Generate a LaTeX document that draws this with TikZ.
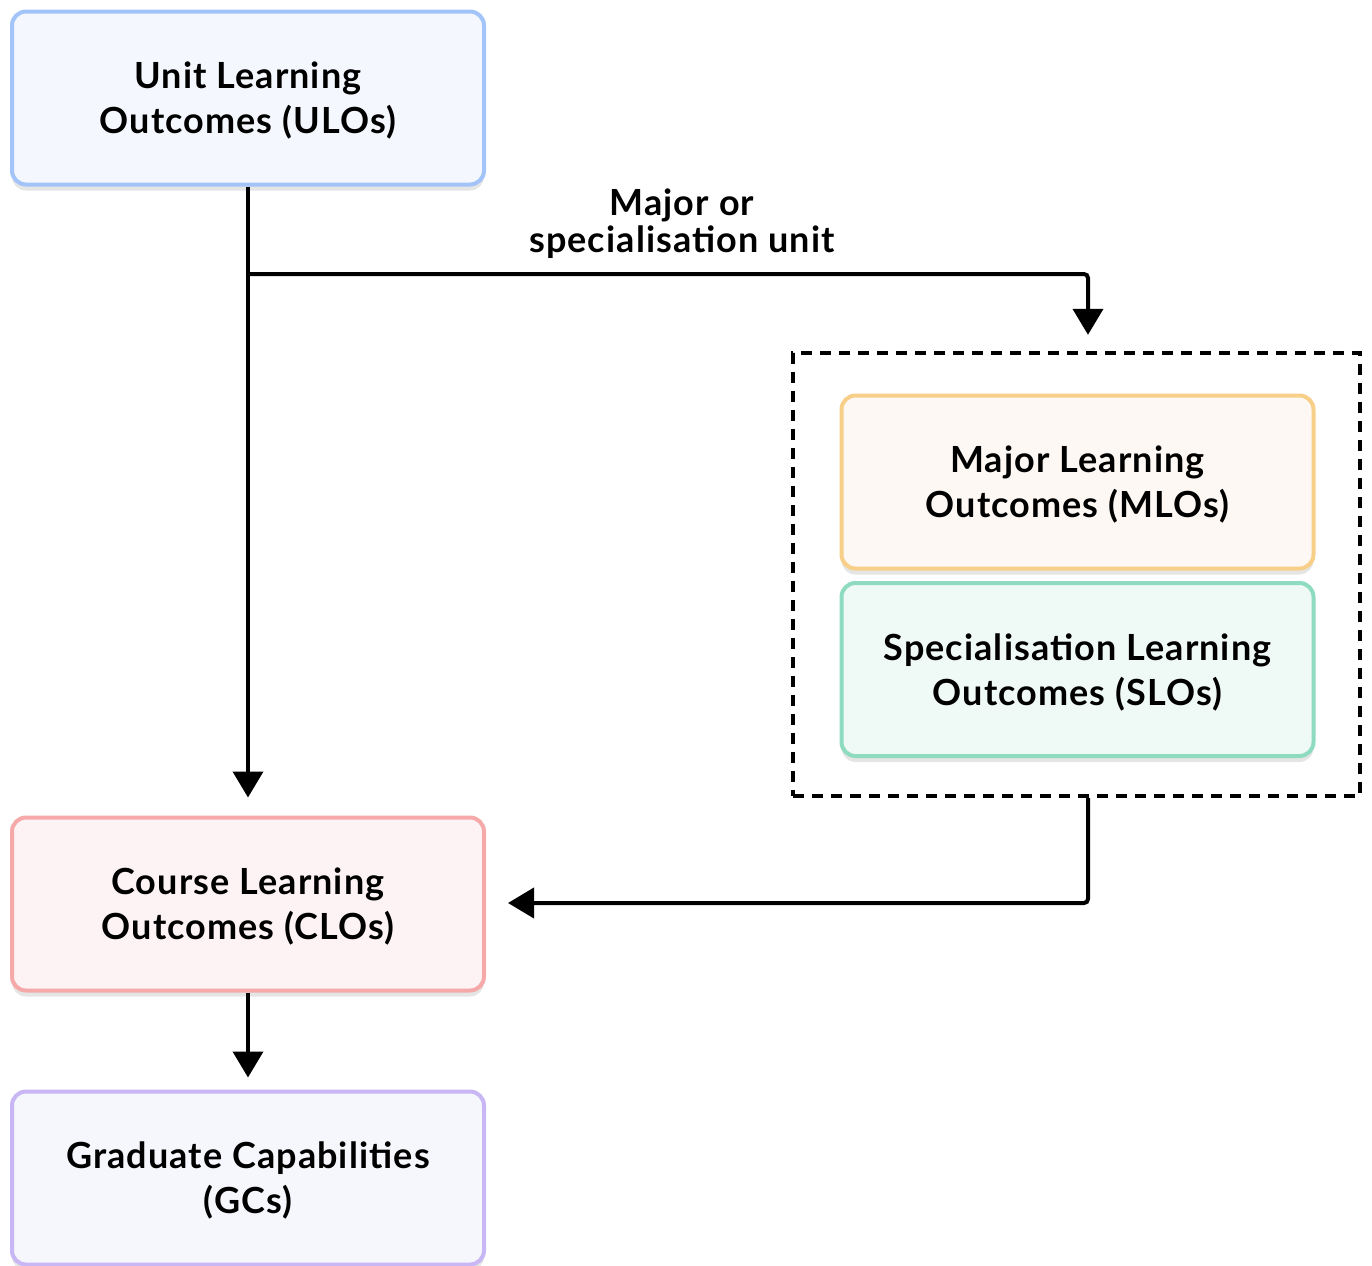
\documentclass[tikz,border=0pt]{standalone}
\usepackage{fontspec}
\setmainfont{Lato}[LetterSpace=3]
\usetikzlibrary{arrows.meta,positioning,shadows}
\definecolor{uloline}{HTML}{A3C4F8}
\definecolor{ulofill}{HTML}{F4F7FD}
\definecolor{cloline}{HTML}{F5A9A9}
\definecolor{clofill}{HTML}{FDF3F4}
\definecolor{gcline}{HTML}{C8B6F5}
\definecolor{gcfill}{HTML}{F6F6FD}
\definecolor{mloline}{HTML}{F7CF88}
\definecolor{mlofill}{HTML}{FDF8F3}
\definecolor{sloline}{HTML}{8EDBC0}
\definecolor{slofill}{HTML}{EFF9F6}
\tikzstyle{lo}=[draw, rounded corners=7pt, line width=2pt, minimum width=236pt, minimum height=86.5pt, align=center, text depth=0pt, font=\bfseries\fontsize{18}{22.5}\selectfont, drop shadow={shadow xshift=0pt, shadow yshift=-3pt, opacity=0.10, fill=black}]
\tikzstyle{group}=[draw, line width=2.2pt, dash pattern=on 5.5pt off 4pt, minimum width=283.5pt, minimum height=221.5pt]

\begin{document}
\begin{tikzpicture}[x=0.5pt,y=-0.5pt,>={Triangle[width=15pt,length=13pt]},line width=2pt]
    \useasboundingbox (0,0) rectangle (1372,1265);
    \node [lo, draw=uloline, fill=ulofill] (ulo) at (248,98) {Unit Learning\\Outcomes (ULOs)};
    \node [lo, draw=cloline, fill=clofill] (clo) at (248,904) {Course Learning\\Outcomes (CLOs)};
    \node [lo, draw=gcline, fill=gcfill] (gc) at (248,1178) {Graduate Capabilities\\(GCs)};
    \node [group] (spec) at (1076.5,574.5) {};
    \node [lo, draw=mloline, fill=mlofill] (mlo) at (1077.5,482) {Major Learning\\Outcomes (MLOs)};
    \node [lo, draw=sloline, fill=slofill] (slo) at (1077.5,669.5) {Specialisation Learning\\Outcomes (SLOs)};
    \coordinate (split) at (ulo.south |- 0,274);
    \coordinate (turn) at (1088,903);
    \draw[->] (ulo.south) -- ([yshift=9pt]clo.north);
    \draw[->, rounded corners=2pt] (split) -| ([yshift=8pt]spec.north -| 1088,0);
    \node [align=center, font=\bfseries\fontsize{18}{18.5}\selectfont] (unit) at (682,224) {Major or\\specialisation unit};
    \draw[->, rounded corners=2pt] (spec.south -| turn) |- ([xshift=11pt]clo.east |- turn);
    \draw[->] (clo.south) -- ([yshift=6pt]gc.north);
\end{tikzpicture}
\end{document}
